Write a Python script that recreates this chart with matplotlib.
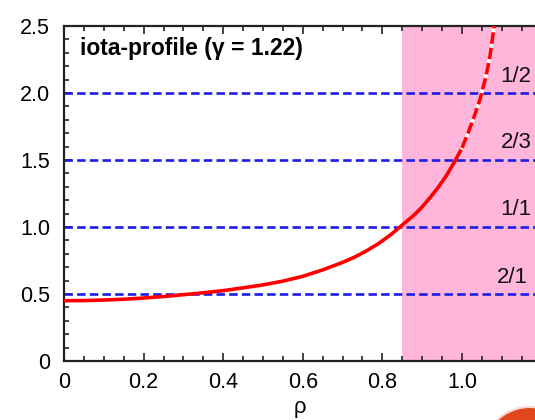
import numpy as np
import matplotlib
matplotlib.use("Agg")
import matplotlib.pyplot as plt
from matplotlib.patches import Ellipse

plt.rcParams['font.family'] = ['Liberation Sans', 'DejaVu Sans']

# rotational transform profile, solid inside rho = 1
rho_in = [0.0, 0.05, 0.1, 0.15, 0.2, 0.25, 0.3, 0.35, 0.4, 0.45, 0.5, 0.55,
          0.6, 0.65, 0.7, 0.73, 0.76, 0.79, 0.82, 0.84, 0.86, 0.88, 0.9,
          0.92, 0.94, 0.96, 0.98, 1.0]
iota_in = [0.45, 0.451, 0.455, 0.461, 0.47, 0.481, 0.495, 0.509, 0.525, 0.546,
           0.568, 0.596, 0.632, 0.68, 0.736, 0.775, 0.822, 0.876, 0.94, 0.99,
           1.04, 1.09, 1.15, 1.22, 1.295, 1.38, 1.48, 1.59]

# extrapolated part outside the last closed surface
rho_out = [1.0, 1.015, 1.03, 1.045, 1.06, 1.07, 1.08, 1.09]
iota_out = [1.59, 1.7, 1.82, 1.95, 2.12, 2.27, 2.48, 2.7]

# rational surfaces
rational_iota = [0.5, 1.0, 1.5, 2.0]
rational_labels = ['2/1', '1/1', '2/3', '1/2']
label_rho = [1.126, 1.136, 1.136, 1.136]
label_iota = [0.62, 1.13, 1.634, 2.12]

edge_rho = 0.85
xmax = 471 / 398

fig = plt.figure(figsize=(5.35, 4.2), dpi=100)
ax = fig.add_axes([64 / 535, 59 / 420, 471 / 535, 335 / 420])

ax.axvspan(edge_rho, xmax, color='#ffb6da', lw=0, zorder=0)

for y in rational_iota:
    ax.plot([0, xmax], [y, y], color='#1c1ce8', lw=1.9, dashes=(3.2, 1.6), zorder=2)

ax.plot(rho_in, iota_in, color='#ff0000', lw=2.6, zorder=3)
ax.plot(rho_out, iota_out, color='white', lw=2.6, zorder=3)
ax.plot(rho_out, iota_out, color='#ff0000', lw=2.6, dashes=(3.2, 1.1), zorder=4)

for lab, x, y in zip(rational_labels, label_rho, label_iota):
    ax.text(x, y, lab, fontsize=16, ha='center', va='center', color='#111111')

ax.text(0.04, 2.33, 'iota-profile (γ = 1.22)', fontsize=16.5, fontweight='bold',
        ha='left', va='center')

ax.set_xlim(0, xmax)
ax.set_ylim(0, 2.5)
ax.set_xticks([0, 0.2, 0.4, 0.6, 0.8, 1.0])
ax.set_xticklabels(['0', '0.2', '0.4', '0.6', '0.8', '1.0'])
ax.set_yticks([0, 0.5, 1.0, 1.5, 2.0, 2.5])
ax.set_yticklabels(['0', '0.5', '1.0', '1.5', '2.0', '2.5'])
ax.set_xticks(np.arange(0, 1.2, 0.05), minor=True)
ax.set_yticks(np.arange(0, 2.51, 0.1), minor=True)
ax.tick_params(which='both', direction='in', top=True, right=False,
               width=1.2, color='#222222', labelsize=15.5)
ax.tick_params(which='major', length=6, pad=8)
ax.tick_params(which='minor', length=3.5)
ax.tick_params(axis='y', pad=10)
for side in ['left', 'bottom', 'top']:
    ax.spines[side].set_linewidth(1.6)
    ax.spines[side].set_color('#222222')
ax.spines['right'].set_visible(False)

ax.set_xlabel('ρ', fontsize=16, labelpad=3)

# corner badge
fig.patches.append(Ellipse((530 / 535, 1 - 455 / 420), 96 / 535, 96 / 420,
                           transform=fig.transFigure, facecolor='#e2461c',
                           edgecolor='#f6d8d0', lw=1.5, zorder=5))

fig.savefig('out.png', dpi=100)
